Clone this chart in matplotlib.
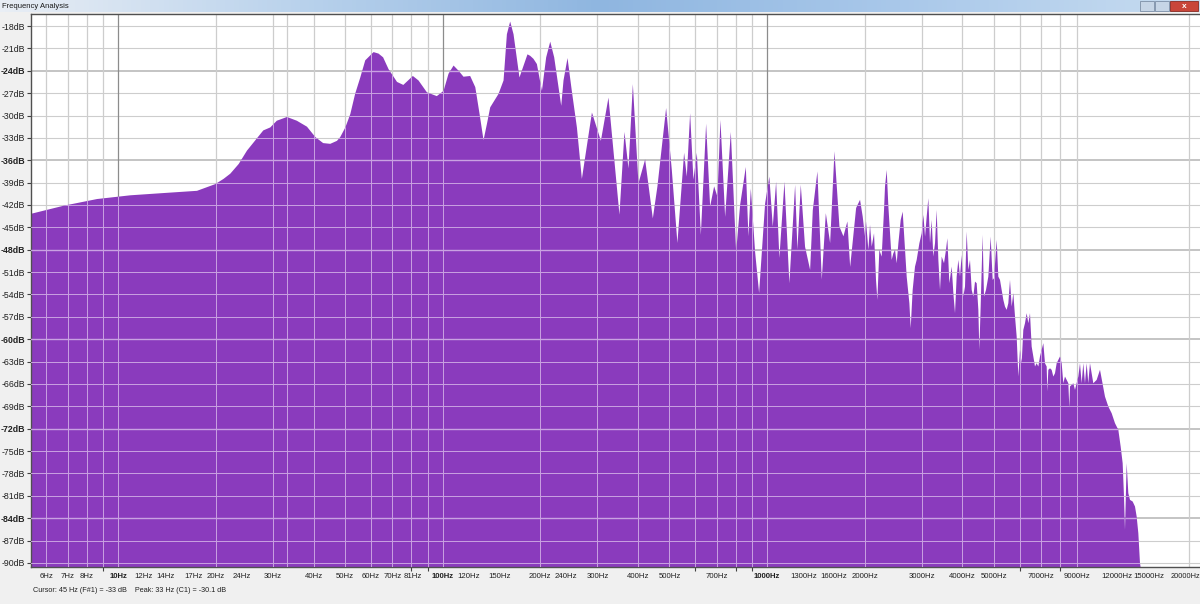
import numpy as np
import matplotlib.pyplot as plt
from matplotlib.patches import Rectangle
from matplotlib.ticker import NullFormatter
from matplotlib.colors import LinearSegmentedColormap
from matplotlib.transforms import ScaledTranslation

plt.rcParams['font.family'] = ['Liberation Sans', 'DejaVu Sans']

# spectrum, split in bands (Hz, dB)
low_freq = [5.36, 6.78, 8.60, 10.89, 13.76, 17.48, 19.90, 21.1, 22.14, 23.5, 24.93, 27.98,
            29.4, 30.8, 33.1, 35.5, 38.15, 40.5, 42.8, 45.0, 47.2, 48.3, 50.1, 51.9, 53.7,
            55.7, 57.7, 61.2, 63.4, 65.5, 68.1, 72.3, 75.6, 80.9, 84.2, 89.4, 95.9, 100.6,
            104.2, 108.0, 111.9, 115.9, 121.5, 126.0, 129.9, 133.6, 136.9, 140.1, 148.6,
            154.0, 157.7, 161.4, 165.3, 172.4, 182.5, 186.1, 190.4, 195.1, 202.2, 208.4,
            214.5, 220.6, 231.9, 235.7, 242.5, 250.0, 259.2, 268.5]
low_db = [-43.2, -42.1, -41.2, -40.7, -40.4, -40.1, -39.2, -38.5, -37.8, -36.5, -34.7, -32.0,
          -31.6, -30.7, -30.2, -30.7, -31.5, -32.9, -33.7, -33.8, -33.4, -32.9, -31.6, -29.8, -27.1,
          -24.9, -22.6, -21.5, -21.7, -22.2, -23.8, -25.5, -25.9, -24.7, -25.3, -26.9, -27.4, -26.7,
          -24.4, -23.3, -24.0, -24.8, -24.7, -26.2, -29.8, -33.3, -31.1, -28.9, -27.1,
          -25.3, -19.1, -17.4, -19.1, -24.9, -21.8, -22.0, -22.4, -23.1, -26.7, -22.2,
          -20.1, -22.2, -28.7, -25.3, -22.3, -26.7, -31.6, -38.5]

mid_freq = [288.4, 307.3, 324.3, 350.6, 363.3, 373.8, 385.6, 401.2, 420.7, 444.3, 459.1,
            488.3, 508.4, 529.0, 554.8, 565.5, 579.0, 592.7, 607.3, 624.8, 648.6, 667.3,
            686.6, 702.8, 718.0, 742.3, 772.9, 802.6, 825.6, 859.7, 875.7, 890.7, 918.3,
            944.7, 985.8, 1016, 1041, 1066, 1091, 1131, 1171, 1220, 1240, 1270, 1309, 1357,
            1383, 1429, 1474, 1517, 1564, 1613, 1671, 1719, 1768, 1803, 1881]
mid_db = [-29.6, -33.4, -27.6, -43.3, -32.2, -37.1, -25.8, -39.1, -35.9, -43.8, -39.5,
          -29.0, -37.3, -47.1, -35.0, -38.2, -29.7, -38.6, -35.0, -46.0, -31.1, -42.2,
          -39.5, -40.9, -30.6, -43.6, -32.2, -48.3, -42.0, -36.9, -46.2, -39.8, -48.3,
          -53.8, -41.8, -38.2, -44.9, -38.9, -49.1, -38.9, -52.5, -39.3, -48.0, -39.3, -47.6, -50.7,
          -42.7, -37.5, -52.0, -43.1, -47.1, -34.8, -44.9, -46.2, -44.2, -50.3, -42.4]

high_freq = [1934, 1971, 2004, 2018, 2052, 2076, 2101, 2136, 2166, 2187, 2218, 2255, 2293,
             2309, 2337, 2365, 2393, 2421, 2450, 2479, 2509, 2539, 2581, 2618, 2662, 2693,
             2745, 2771, 2810, 2857, 2891, 2947, 2996, 3032, 3068, 3104, 3141, 3178, 3216,
             3254, 3293, 3332, 3372, 3412, 3453, 3510, 3560, 3594, 3646, 3707, 3751, 3795,
             3840, 3886, 3932, 3979, 4026, 4074, 4123, 4172, 4221, 4272, 4322, 4374, 4426,
             4479, 4510, 4553, 4618, 4662, 4729, 4808, 4888, 4958, 5005, 5101, 5161, 5223,
             5285, 5348, 5411, 5476, 5541, 5607, 5674, 5741, 5810, 5879, 5949, 6019, 6091,
             6163, 6237, 6311, 6386, 6462, 6539, 6617, 6696, 6775, 6856, 6937, 7020, 7104,
             7188, 7274, 7309, 7360, 7448, 7536, 7626, 7717, 7809, 7901, 7995, 8091, 8187,
             8284, 8383, 8483, 8544, 8583, 8789, 8893, 9106, 9215, 9324, 9435, 9547, 9661,
             9776, 9892, 10129]
high_db = [-41.3, -43.56, -46.24, -44.23, -48.02, -44.67, -47.58, -45.79, -52.05, -54.73, -48.02,
           -48.92, -42.66, -39.53, -37.30, -42.22, -45.79, -49.36, -48.47, -48.02, -49.81, -47.13,
           -44.0, -42.89, -48.02, -51.6, -55.17, -58.52, -53.39, -50.26, -49.36, -47.13, -45.79,
           -43.33, -46.24, -43.56, -41.10, -47.13, -44.0, -48.92, -47.13, -42.66, -49.36, -53.39,
           -48.92, -49.81, -48.02, -46.46, -52.49, -50.26, -53.83, -56.51, -51.6, -49.36, -51.6,
           -48.69, -54.28, -52.94, -45.57, -50.71, -49.36, -53.39, -54.28, -52.27, -52.49, -56.06,
           -61.43, -55.62, -46.01, -54.28, -53.39, -51.6, -46.24, -52.05, -51.82, -46.68, -51.6,
           -52.05, -53.39, -54.73, -55.62, -56.06, -55.17, -52.05, -55.62, -53.83, -56.96, -59.64,
           -65.0, -61.43, -63.22, -58.75, -57.85, -56.51, -57.85, -56.51, -60.98, -62.32, -63.66,
           -63.22, -63.66, -62.32, -61.43, -60.53, -63.22, -63.66, -67.0, -64.11, -63.89, -64.11,
           -65.0, -64.56, -63.22, -62.77, -62.32, -63.22, -65.9, -65.0, -65.45, -65.9, -69.2,
           -66.34, -65.9, -66.79, -65.0, -63.22, -65.9, -63.22, -65.9, -63.22, -65.9, -63.22, -65.9]

top_freq = [10373, 10621, 11004, 11268, 11538, 11814, 12097, 12299, 12475, 12593, 12683,
            12834, 12986, 13141, 13392, 13616, 13778, 13942, 14108, 14275]
top_db = [-65.45, -64.1, -67.69, -69.03, -69.92, -71.26, -72.15, -74.39, -76.62, -81.09, -85.56,
          -76.62, -80.64, -81.54, -81.76, -82.43, -83.77, -86.0, -90.03, -91.4]

db_ticks = list(range(-18, -91, -3))
label_freqs = [6, 7, 8, 10, 12, 14, 17, 20, 24, 30, 40, 50, 60, 70, 81, 100, 120, 150, 200,
               240, 300, 400, 500, 700, 1000, 1300, 1600, 2000, 3000, 4000, 5000, 7000, 9000,
               12000, 15000, 20000]
grid_freqs = [6, 7, 8, 9, 10, 20, 30, 40, 50, 60, 70, 80, 90, 100, 200, 300, 400, 500, 600,
              700, 800, 900, 1000, 2000, 3000, 4000, 5000, 6000, 7000, 8000, 9000, 20000]
decades = [10, 100, 1000]
peak_hz = 33

freq = np.array(low_freq + mid_freq + high_freq + top_freq)
level = np.array(low_db + mid_db + high_db + top_db)

PURPLE = '#8a3bbd'
LAVENDER = '#c9a2e2'

fig = plt.figure(figsize=(12, 6.04), dpi=100, facecolor='#f0f0f0')
ax = fig.add_axes([31 / 1200, 37 / 604, 1169 / 1200, 553 / 604])
ax.set_xscale('log')
ax.set_xlim(5.38, 21600)
ax.set_ylim(-90.54, -16.39)
ax.set_facecolor('white')

# grid under the spectrum (grey), and a lighter copy clipped to the spectrum
poly = ax.fill_between(freq, level, -100, color=PURPLE, lw=0, zorder=2)
clip = poly.get_paths()[0]
for db in db_ticks:
    strong = db % 12 == 0
    ax.axhline(db, color='#b4b4b4' if strong else '#cdcdcd', lw=1.1 if strong else 0.8, zorder=1)
    ln = ax.axhline(db, color=LAVENDER, lw=1.0 if strong else 0.7, zorder=3)
    ln.set_clip_path(clip, ax.transData)
for f in grid_freqs + [peak_hz]:
    c = '#8c8c8c' if f in decades else '#cdcdcd'
    ax.axvline(f, color=c, lw=0.9, zorder=1)
    ln = ax.axvline(f, color=LAVENDER, lw=0.7, zorder=3)
    ln.set_clip_path(clip, ax.transData)

# axes, ticks and labels
ax.set_yticks(db_ticks, ['{}dB'.format(d) for d in db_ticks])
for lab, d in zip(ax.get_yticklabels(), db_ticks):
    if d % 12 == 0:
        lab.set_fontweight('bold')
ax.tick_params(axis='y', length=3, width=0.8, color='#404040', labelsize=6.3, pad=1,
               labelcolor='#202020')

ax.set_xticks(label_freqs, ['{}Hz'.format(f) for f in label_freqs])
ax.set_xticks(grid_freqs, minor=True)
ax.xaxis.set_minor_formatter(NullFormatter())
for lab, f in zip(ax.get_xticklabels(), label_freqs):
    if f in decades:
        lab.set_fontweight('bold')
ax.tick_params(axis='x', which='major', length=0, labelsize=5.6, pad=4, labelcolor='#202020')
ax.tick_params(axis='x', which='minor', length=3, width=0.8, color='#404040')
# the last label sits against the window edge: nudge it a few pixels left
last = ax.get_xticklabels()[-1]
last.set_fontsize(5.3)
last.set_transform(last.get_transform() + ScaledTranslation(-3.5 / 100, 0, fig.dpi_scale_trans))

for side in ['left', 'bottom', 'top']:
    ax.spines[side].set_color('#505050')
    ax.spines[side].set_linewidth(1)
ax.spines['right'].set_visible(False)

# window title bar
tax = fig.add_axes([0, 1 - 12 / 604, 1, 12 / 604])
grad = np.linspace(0, 1, 256).reshape(1, -1)
cmap = LinearSegmentedColormap.from_list('bar', ['#e9eef5', '#b9d2ec', '#8fb6e0', '#a9c8ea', '#c7dcf0'])
tax.imshow(grad, aspect='auto', cmap=cmap, extent=[0, 1, 0, 1])
tax.set_axis_off()
fig.text(2 / 1200, 1 - 6 / 604, 'Frequency Analysis', fontsize=5.5, va='center', color='#1a1a1a')
fig.patches.append(Rectangle((1140 / 1200, 1 - 11 / 604), 14 / 1200, 10 / 604,
                             transform=fig.transFigure, facecolor='#c6d5e6', edgecolor='#7d8fa6', lw=0.6))
fig.patches.append(Rectangle((1155 / 1200, 1 - 11 / 604), 14 / 1200, 10 / 604,
                             transform=fig.transFigure, facecolor='#c6d5e6', edgecolor='#7d8fa6', lw=0.6))
fig.patches.append(Rectangle((1170 / 1200, 1 - 11 / 604), 28 / 1200, 10 / 604,
                             transform=fig.transFigure, facecolor='#c9463a', edgecolor='#8a2b22', lw=0.6))
fig.text(1184 / 1200, 1 - 6 / 604, 'x', fontsize=6, color='white', ha='center', va='center',
         fontweight='bold')

# status line
fig.text(33 / 1200, 1 - 591 / 604, 'Cursor: 45 Hz (F#1) = -33 dB    Peak: 33 Hz (C1) = -30.1 dB',
         fontsize=5.2, va='center', color='#202020')

fig.savefig('out.png', dpi=100, facecolor=fig.get_facecolor())
